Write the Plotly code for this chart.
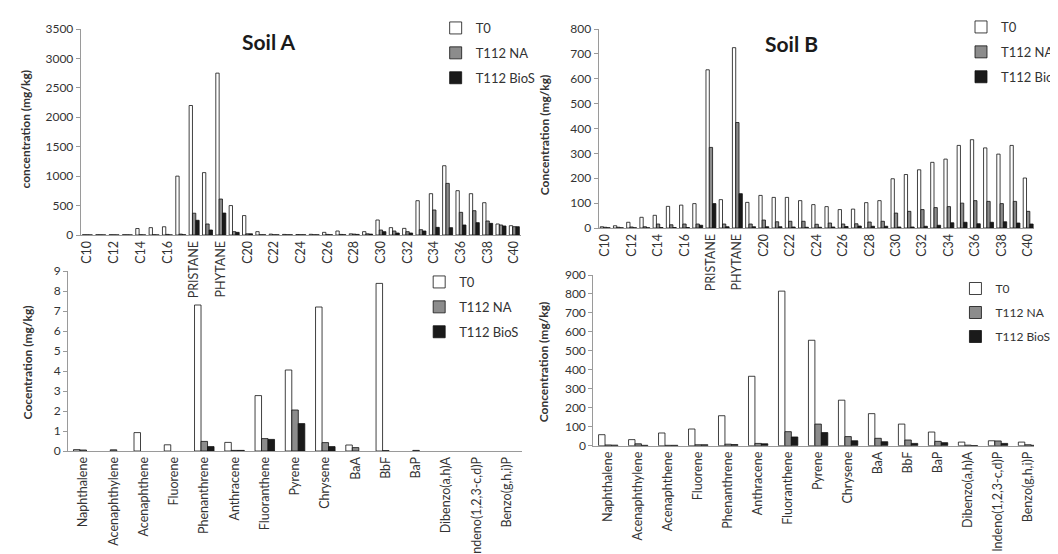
import plotly.graph_objects as go

W, H = 1058, 554
def fx(p): return p / W
def fy(p): return 1 - p / H

alkanes = ["C10", "C11", "C12", "C13", "C14", "C15", "C16", "C17", "PRISTANE", "C18", "PHYTANE", "C19",
           "C20", "C21", "C22", "C23", "C24", "C25", "C26", "C27", "C28", "C29", "C30", "C31", "C32",
           "C33", "C34", "C35", "C36", "C37", "C38", "C39", "C40"]
alk_ticks = alkanes[::2]

soilA_T0 = [5, 5, 5, 5, 110, 125, 140, 1000, 2200, 1060, 2750, 500, 330, 57, 15, 10, 8, 12, 45, 68, 20, 57,
            255, 125, 113, 583, 702, 1177, 753, 702, 549, 187, 158]
soilA_NA = [3, 3, 3, 3, 5, 5, 10, 15, 370, 187, 611, 57, 20, 5, 5, 5, 5, 5, 10, 10, 15, 20,
            85, 68, 57, 90, 425, 877, 385, 413, 238, 170, 141]
soilA_BioS = [2, 2, 2, 2, 2, 2, 2, 5, 250, 85, 373, 45, 20, 3, 3, 3, 3, 3, 5, 5, 10, 15,
              57, 34, 34, 68, 130, 125, 170, 210, 198, 153, 141]

soilB_T0 = [5, 9, 23, 43, 51, 87, 92, 98, 636, 114, 725, 103, 131, 123, 123, 110, 94, 86, 74, 76, 102, 110,
            198, 215, 234, 264, 277, 332, 355, 322, 297, 332, 201]
soilB_NA = [3, 3, 4, 5, 16, 13, 16, 16, 324, 16, 424, 16, 32, 25, 27, 27, 15, 20, 16, 17, 24, 27,
            60, 67, 74, 82, 86, 100, 110, 107, 98, 107, 67]
soilB_BioS = [1, 1, 1, 1, 2, 2, 2, 11, 98, 5, 138, 5, 5, 5, 4, 3, 3, 4, 6, 8, 7, 7,
              4, 4, 7, 11, 21, 23, 17, 23, 25, 20, 16]

pahs = ["Naphthalene", "Acenaphthylene", "Acenaphthene", "Fluorene", "Phenanthrene", "Anthracene",
        "Fluoranthene", "Pyrene", "Chrysene", "BaA", "BbF", "BaP", "Dibenzo(a,h)A",
        "Indeno(1,2,3-c,d)P", "Benzo(g,h,i)P"]

pahA_T0 = [0.07, None, 0.92, 0.31, 7.3, 0.43, 2.77, 4.05, 7.2, 0.3, 8.38, None, None, None, None]
pahA_NA = [0.05, 0.06, None, None, 0.48, 0.03, 0.62, 2.05, 0.42, 0.17, 0.02, 0.03, None, None, None]
pahA_BioS = [None, None, None, None, 0.22, 0.03, 0.58, 1.37, 0.22, None, None, None, None, None, None]

pahB_T0 = [58, 32, 67, 88, 158, 366, 815, 556, 240, 169, 114, 72, 19, 26, 19]
pahB_NA = [4, 10, 2, 5, 8, 12, 74, 114, 48, 39, 30, 23, 3, 25, 5]
pahB_BioS = [3, 2, 2, 5, 6, 10, 46, 69, 26, 21, 12, 16, 1, 12, 2]

series_names = ["T0", "T112 NA", "T112 BioS"]
fills = ["#ffffff", "#8c8c8c", "#1a1a1a"]

FONT = "Lato"
TXT = "#333333"
AX = "#9a9a9a"

fig = go.Figure()

def add_group(xcats, vals, xa, ya, leg, prefix, width, offsets):
    for name, v, c, off in zip(series_names, vals, fills, offsets):
        fig.add_trace(go.Bar(
            x=xcats, y=v, name=name, xaxis=xa, yaxis=ya, legend=leg,
            legendgroup=prefix + name,
            marker=dict(color=c, line=dict(color="#111111", width=0.8)),
            width=width, offset=off,
        ))

wt = 0.25
add_group(alkanes, [soilA_T0, soilA_NA, soilA_BioS], "x", "y", "legend", "A", wt, [-0.375, -0.125, 0.125])
add_group(alkanes, [soilB_T0, soilB_NA, soilB_BioS], "x2", "y2", "legend2", "B", wt, [-0.375, -0.125, 0.125])
wb = 0.215
add_group(pahs, [pahA_T0, pahA_NA, pahA_BioS], "x3", "y3", "legend3", "PA", wb, [-0.3225, -0.1075, 0.1075])
add_group(pahs, [pahB_T0, pahB_NA, pahB_BioS], "x4", "y4", "legend4", "PB", wb, [-0.3225, -0.1075, 0.1075])

tickfont = dict(family=FONT, size=12, color=TXT)
xtickfont = dict(family=FONT, size=12.5, color=TXT)

def xax(dom, rng, anchor, tickvals=None):
    d = dict(domain=dom, range=rng, anchor=anchor, type="category", tickangle=-90,
             showline=True, linecolor=AX, linewidth=1, showgrid=False, zeroline=False,
             ticks="", tickfont=xtickfont, automargin=False)
    if tickvals is not None:
        d["tickvals"] = tickvals
        d["ticktext"] = tickvals
    return d

def yax(dom, rng, dt, anchor):
    return dict(domain=dom, range=rng, dtick=dt, anchor=anchor, showline=True, linecolor=AX,
                linewidth=1, showgrid=False, zeroline=False, ticks="outside", ticklen=4,
                tickcolor=AX, tickfont=tickfont, automargin=False)

legbase = dict(bgcolor="rgba(0,0,0,0)", font=dict(family=FONT, size=13, color=TXT),
               xanchor="left", yanchor="top", tracegroupgap=5, traceorder="grouped",
               itemclick=False, itemdoubleclick=False)

fig.update_layout(
    width=W, height=H, margin=dict(l=0, r=0, t=0, b=0),
    paper_bgcolor="white", plot_bgcolor="white",
    barmode="overlay",
    font=dict(family=FONT, color=TXT),
    xaxis=xax([fx(75), fx(529)], [-0.5, 32.5], "y", alk_ticks),
    yaxis=yax([fy(227), fy(21)], [0, 3500], 500, "x"),
    xaxis2=xax([fx(609), 1.0], [-0.5, 32.44], "y2", alk_ticks),
    yaxis2=yax([fy(220), fy(21)], [0, 800], 100, "x2"),
    xaxis3=xax([fx(62), fx(530)], [-0.5, 14.5], "y3"),
    yaxis3=yax([fy(443), fy(263)], [0, 9], 1, "x3"),
    xaxis4=xax([fx(603.5), 1.0], [-0.5, 14.2], "y4"),
    yaxis4=yax([fy(437.7), fy(267)], [0, 900], 100, "x4"),
    legend=dict(legbase, x=fx(441), y=fy(5)),
    legend2=dict(legbase, x=fx(983), y=fy(4)),
    legend3=dict(legbase, x=fx(424), y=fy(259)),
    legend4=dict(legbase, x=fx(977), y=fy(266), font=dict(family=FONT, size=12, color=TXT)),
    showlegend=True,
)

def ann(text, x, y, size, bold=False, angle=0):
    fig.add_annotation(text=("<b>%s</b>" % text) if bold else text, x=fx(x), y=fy(y), xref="paper",
                       yref="paper", showarrow=False, textangle=angle, xanchor="center", yanchor="middle",
                       font=dict(family=FONT, size=size, color="#1a1a1a" if size > 15 else TXT))

ann("Soil A", 269, 34, 21, bold=True)
ann("Soil B", 808, 35, 21, bold=True)
ann("concentration (mg/kg)", 18, 121, 12, bold=True, angle=-90)
ann("Concentration (mg/kg)", 553, 127, 12, bold=True, angle=-90)
ann("Cocentration (mg/kg)", 20, 354, 12, bold=True, angle=-90)
ann("Concentration (mg/kg)", 552, 354, 12, bold=True, angle=-90)

fig.write_html("out.html")
